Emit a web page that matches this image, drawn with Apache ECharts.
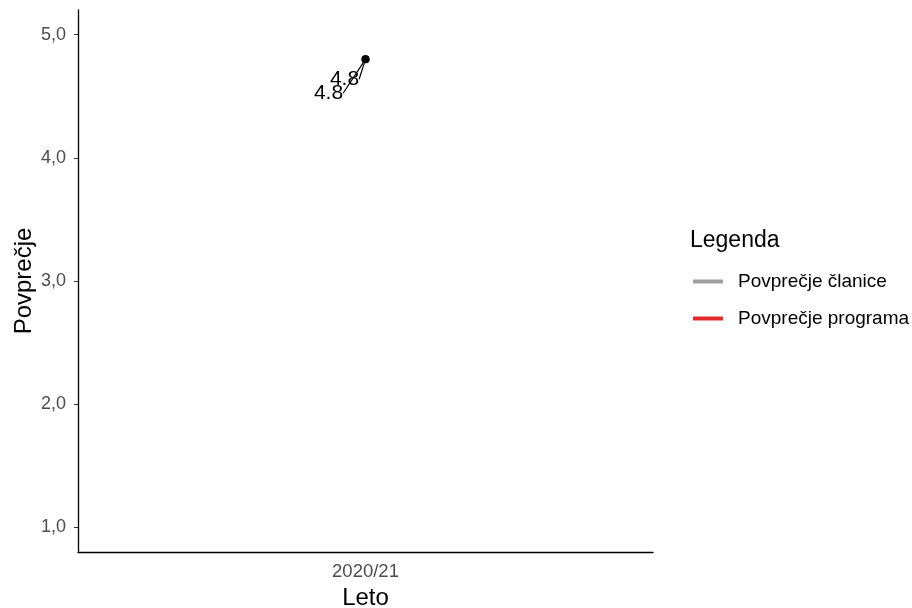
<!DOCTYPE html>
<html>
<head>
<meta charset="utf-8">
<script src="https://cdn.jsdelivr.net/npm/echarts@6/dist/echarts.min.js"></script>
<style>
  html, body { margin: 0; padding: 0; background: #fff; }
  #chart { width: 912px; height: 608px; }
</style>
</head>
<body>
<div id="chart"></div>
<script>
// data
var years = ['2020/21'];
var clanica = [4.8];     // Povprečje članice
var program = [4.8];     // Povprečje programa
var yTicks = [1, 2, 3, 4, 5];

var font = '"Liberation Sans", Arial, sans-serif';
var myChart = echarts.init(document.getElementById('chart'));

var fmt = function (v) { return v.toFixed(1).replace('.', ','); };

var option = {
    animation: false,
    textStyle: { fontFamily: font },
    grid: { left: 78, right: 259, top: 10, bottom: 56, outerBoundsMode: 'none' },
    graphic: [{
        type: 'text',
        left: 690, top: 229,
        style: { text: 'Legenda', font: '23px ' + font, fill: '#000' }
    }],
    legend: {
        orient: 'vertical',
        left: 693, top: 271,
        padding: 0,
        itemWidth: 30, itemHeight: 4,
        itemGap: 16,
        textStyle: { fontSize: 19, color: '#000', lineHeight: 21, padding: [0, 0, 0, 10] },
        data: [
            { name: 'Povprečje članice', icon: 'rect', itemStyle: { color: '#a0a0a0' } },
            { name: 'Povprečje programa', icon: 'rect', itemStyle: { color: '#e32b2b' } }
        ]
    },
    xAxis: {
        type: 'category',
        data: years,
        name: 'Leto',
        nameLocation: 'middle',
        nameGap: 34,
        nameTextStyle: { fontSize: 24, color: '#000' },
        axisLine: { lineStyle: { color: '#000', width: 1.3 } },
        axisTick: { alignWithLabel: true, length: 4, lineStyle: { color: '#333' } },
        axisLabel: { fontSize: 18.5, color: '#4d4d4d', margin: 10 }
    },
    yAxis: {
        type: 'value',
        min: 0.8, max: 5.2,
        name: 'Povprečje',
        nameLocation: 'middle',
        nameGap: 42,
        nameMoveOverlap: false,
        nameTextStyle: { fontSize: 24, color: '#000' },
        splitLine: { show: false },
        axisLine: { show: true, lineStyle: { color: '#000', width: 1.3 } },
        axisTick: { show: true, length: 4, customValues: yTicks, lineStyle: { color: '#333' } },
        axisLabel: { fontSize: 18, color: '#4d4d4d', margin: 12, customValues: yTicks, formatter: fmt }
    },
    series: [{
        name: 'Povprečje članice',
        type: 'line',
        data: clanica,
        color: '#a0a0a0',
        symbol: 'circle', symbolSize: 8,
        itemStyle: { color: '#000' },
        lineStyle: { width: 3 },
        label: { show: true, position: 'inside', fontSize: 21, color: '#000', formatter: function (p) { return String(p.value); } },
        labelLayout: { dx: -37, dy: 34 },
        labelLine: { show: true, lineStyle: { color: '#000', width: 1.2 } },
        z: 3
    }, {
        name: 'Povprečje programa',
        type: 'line',
        data: program,
        color: '#e32b2b',
        symbol: 'circle', symbolSize: 8,
        itemStyle: { color: '#000' },
        lineStyle: { width: 3 },
        label: { show: true, position: 'inside', fontSize: 21, color: '#000', formatter: function (p) { return String(p.value); } },
        labelLayout: { dx: -21, dy: 20 },
        labelLine: { show: true, lineStyle: { color: '#000', width: 1.2 } },
        z: 3
    }]
};

myChart.setOption(option);
</script>
</body>
</html>
